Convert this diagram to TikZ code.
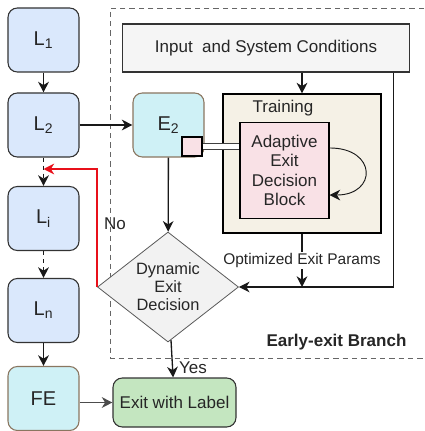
\documentclass[tikz,border=0pt]{standalone}
\usepackage{fontspec}
\setmainfont{Liberation Sans}
\usetikzlibrary{shapes.geometric,arrows.meta}

\definecolor{layerblue}{HTML}{DAE8FC}
\definecolor{exitcyan}{HTML}{CFF1F6}
\definecolor{exitborder}{HTML}{8A7660}
\definecolor{inputgray}{HTML}{F5F5F5}
\definecolor{trainbeige}{HTML}{F5F1E6}
\definecolor{blockpink}{HTML}{F9E1E6}
\definecolor{decgray}{HTML}{F2F2F2}
\definecolor{labelgreen}{HTML}{C4E6C0}
\definecolor{nored}{HTML}{E8101A}

\begin{document}
\begin{tikzpicture}[x=0.75pt,y=-0.75pt,
    arr/.style={draw=black!90,line width=1pt,-{Stealth[length=8pt,width=8pt,inset=2.5pt]}},
    layer/.style={rectangle,rounded corners=7pt,draw=black!80,fill=layerblue,line width=0.8pt,
        minimum width=53.25pt,minimum height=48pt,text=black!85,font=\fontsize{15}{18}\selectfont},
    exitbox/.style={layer,draw=exitborder,fill=exitcyan},
    plainbox/.style={rectangle,draw=black!80,line width=0.8pt,inner sep=0pt,text=black!85,
        align=center,font=\fontsize{12.75}{14.5}\selectfont},
    decision/.style={diamond,draw=black!65,fill=decgray,line width=0.6pt,aspect=1.28,inner sep=0pt,
        minimum width=105.75pt,minimum height=82.5pt,align=center,text=black!85,
        font=\fontsize{12.3}{13.5}\selectfont},
    tag/.style={text=black!85,font=\fontsize{12.75}{15}\selectfont}]

\useasboundingbox (0,0) rectangle (424,431);

% Early-exit branch frame (open on the right)
\draw[dashed,draw=black!60,line width=0.6pt,dash pattern=on 4pt off 3pt]
    (424,8.5) -- (110,8.5) -- (110,358) -- (424,358);
\node[tag,font=\fontsize{12.75}{15}\bfseries] (branch) at (336.5,342) {Early-exit Branch};

% Backbone layers
\node[layer] (L1) at (43.5,40) {L\textsubscript{1}};
\node[layer] (L2) at (43.5,125) {L\textsubscript{2}};
\node[layer] (Li) at (43.5,218.5) {L\textsubscript{i}};
\node[layer] (Ln) at (43.5,310.5) {L\textsubscript{n}};
\node[exitbox] (FE) at (43.5,398.5) {FE};

% Branch nodes
\node[exitbox] (E2) at (168.5,125) {E\textsubscript{2}};
\node[rectangle,draw=black,fill=blockpink,line width=1pt,minimum width=15pt,minimum height=14.25pt,
    inner sep=0pt] (port) at (192,146.5) {};
\node[plainbox,fill=inputgray,minimum width=215.25pt,minimum height=36pt] (inp) at (266,48)
    {Input\ \ and System Conditions};
\node[plainbox,draw=black,fill=trainbeige,minimum width=118.5pt,minimum height=104.25pt] (trn) at (302,163.5) {};
\node[tag] (trnlabel) at (283,108) {Training};
\node[plainbox,draw=black,fill=blockpink,minimum width=66.75pt,minimum height=72pt] (adb) at (284.5,170.5)
    {Adaptive\\Exit\\Decision\\Block};
\node[decision] (dec) at (168,287) {Dynamic\\Exit\\Decision};
\node[plainbox,rectangle,rounded corners=7pt,fill=labelgreen,minimum width=92.25pt,minimum height=36.75pt]
    (out) at (174.5,402.5) {Exit with Label};

\coordinate (join) at (43.5,169);
\coordinate (side) at (393.5,287);

% Backbone flow
\draw[arr] (L1) -- (L2);
\draw[arr,dashed] (L2) -- (Li);
\draw[arr,dashed] (Li) -- (Ln);
\draw[arr] (Ln) -- (FE);
\draw[arr,draw=black!70] (FE.east |- out) -- (out);

% Branch flow
\draw[arr] (L2) -- (E2);
\draw[arr] (E2) -- (dec);
\draw[draw=black!75,line width=0.6pt,double=white,double distance=3.6pt] (port.east) -- (adb.west |- port);
\draw[arr] (trn.north |- inp.south) -- (trn.north);
\draw[arr,line width=0.7pt] ([yshift=16.9pt]adb.east) to[out=0,in=0,looseness=2.6] ([yshift=-18.4pt]adb.east);
\draw[arr] (trn.south) -- (trn.south |- dec.east)
    node[midway,fill=white,inner sep=1pt,text=black!85,font=\fontsize{11.6}{13}\selectfont] {Optimized Exit Params};
\draw[arr] (inp.south -| side) |- (dec.east);

% Decision outcomes
\draw[arr,draw=nored] (dec.west) |- (join);
\node[tag] (nolabel) at (115,224) {No};
\draw[arr] (dec) -- (out);
\node[tag] (yeslabel) at (193,368) {Yes};

\end{tikzpicture}
\end{document}
